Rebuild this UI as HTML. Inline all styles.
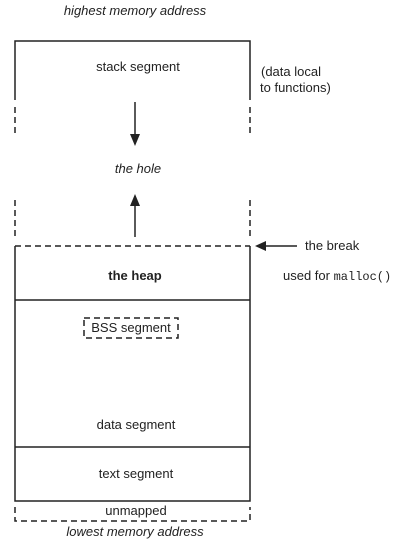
<!DOCTYPE html>
<html><head><style>
body{margin:0;background:#fff;}
svg text{font-family:"Liberation Sans",sans-serif;font-size:13px;fill:#222;}
</style></head><body>
<svg width="407" height="546" viewBox="0 0 407 546" xmlns="http://www.w3.org/2000/svg">
<g stroke="#222" stroke-width="1.5" fill="none">
<polyline points="15,100 15,41 250,41 250,100"/>
<line x1="15" y1="107" x2="15" y2="137" stroke-dasharray="6,4"/>
<line x1="250" y1="107" x2="250" y2="137" stroke-dasharray="6,4"/>
<line x1="15" y1="200" x2="15" y2="238" stroke-dasharray="6,4"/>
<line x1="250" y1="200" x2="250" y2="238" stroke-dasharray="6,4"/>
<line x1="15" y1="246" x2="250" y2="246" stroke-dasharray="6,4"/>
<polyline points="15,246 15,501 250,501 250,246"/>
<line x1="15" y1="300" x2="250" y2="300"/>
<line x1="15" y1="447" x2="250" y2="447"/>
<rect x="84" y="318" width="94" height="20" stroke-dasharray="6,4"/>
<polyline points="15,507 15,521 250,521 250,507" stroke-dasharray="6,4"/>
<line x1="135" y1="102" x2="135" y2="136"/>
<line x1="135" y1="237" x2="135" y2="204"/>
<line x1="297" y1="246" x2="264" y2="246"/>
</g>
<g fill="#222">
<polygon points="130,134 140,134 135,146"/>
<polygon points="130,206 140,206 135,194"/>
<polygon points="266,241 266,251 255,246"/>
</g>
<text x="135" y="15" text-anchor="middle" font-style="italic">highest memory address</text>
<text x="138" y="71" text-anchor="middle">stack segment</text>
<text x="261" y="76">(data local</text>
<text x="260" y="92">to functions)</text>
<text x="138" y="173" text-anchor="middle" font-style="italic">the hole</text>
<text x="305" y="250">the break</text>
<text x="135" y="280" text-anchor="middle" font-weight="bold">the heap</text>
<text x="283" y="280">used for <tspan font-family="Liberation Mono,monospace" font-size="12">malloc()</tspan></text>
<text x="131" y="332" text-anchor="middle">BSS segment</text>
<text x="136" y="429" text-anchor="middle">data segment</text>
<text x="136" y="478" text-anchor="middle">text segment</text>
<text x="136" y="515" text-anchor="middle">unmapped</text>
<text x="135" y="536" text-anchor="middle" font-style="italic">lowest memory address</text>
</svg>
</body></html>
